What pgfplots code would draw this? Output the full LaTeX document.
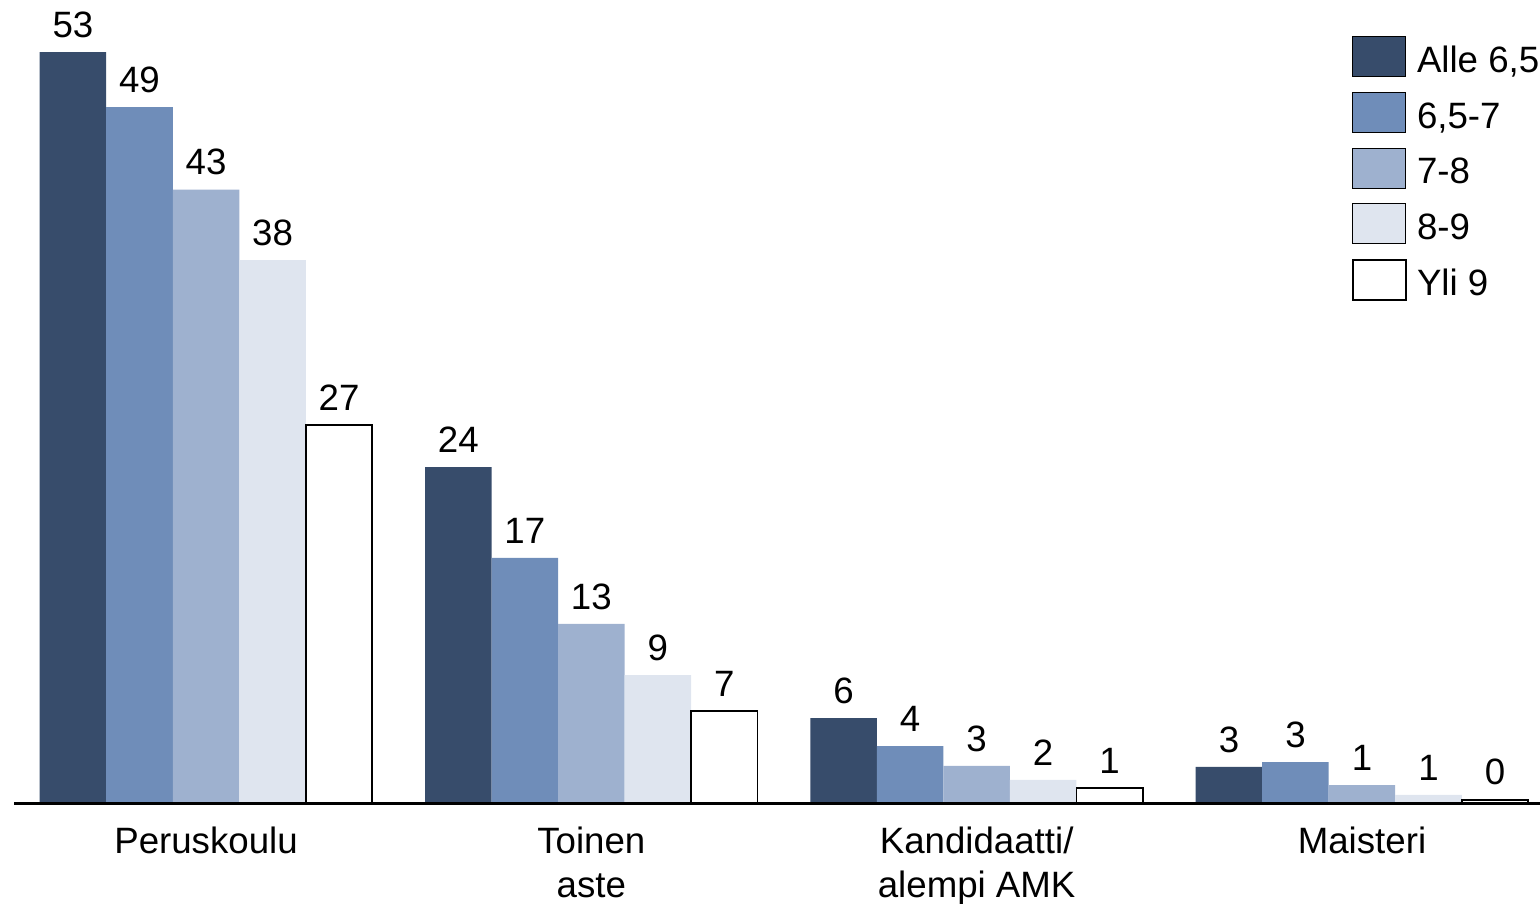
\documentclass[border=0pt]{standalone}
\usepackage{pgfplots}
\pgfplotsset{compat=1.18}
\usepackage{fontspec}
\setmainfont{Liberation Sans}
\definecolor{c1}{RGB}{55,76,107}
\definecolor{c2}{RGB}{111,141,185}
\definecolor{c3}{RGB}{158,177,207}
\definecolor{c4}{RGB}{223,229,239}
\begin{document}
\fontsize{18.4}{22}\selectfont
\begin{tikzpicture}
\begin{axis}[
  at={(7bp,50bp)}, anchor=south west,
  scale only axis, width=763bp, height=402bp,
  xmin=-0.4983, xmax=3.462,
  ymin=0, ymax=56.86,
  enlargelimits=false,
  clip=false,
  axis on top,
  ybar=0pt, bar width=0.1726,
  axis y line=none,
  axis x line*=bottom,
  axis line style={-, line width=1.5bp, black},
  xtick={0,1,2,3},
  xticklabels={Peruskoulu,{Toinen\\aste},{Kandidaatti/\\alempi AMK},Maisteri},
  major tick length=0pt,
  x tick label style={align=center, inner sep=0pt, anchor=north, yshift=-11.2bp, font=\fontsize{18.4}{22}\selectfont},
  nodes near coords={\pgfmathprintnumber[fixed,precision=0,assume math mode=true]{\pgfplotspointmeta}},
  every node near coord/.append style={inner sep=0pt, anchor=south, yshift=7bp, font=\fontsize{18.4}{22}\selectfont, text=black},
  legend image code/.code={\draw[#1] (0bp,-2bp) rectangle (26.5bp,18bp);},
  legend style={at={(0.8768,0.9552)}, anchor=north west, draw=none, fill=none,
    inner sep=0pt, outer sep=0pt, row sep=7.5bp, column sep=5.2bp,
    nodes={inner sep=0pt, text depth=0pt, anchor=base west},
    font=\fontsize{18.4}{22}\selectfont},
  legend cell align=left,
]
\addplot[fill=c1, draw=none] coordinates {(0,53.18) (1,23.83) (2,6.08) (3,2.62)};
\addplot[fill=c2, draw=none] coordinates {(0,49.29) (1,17.40) (2,4.10) (3,2.97)};
\addplot[fill=c3, draw=none] coordinates {(0,43.45) (1,12.73) (2,2.69) (3,1.34)};
\addplot[fill=c4, draw=none] coordinates {(0,38.47) (1,9.12) (2,1.70) (3,0.64)};
\addplot[fill=white, draw=black, line width=0.8bp] coordinates {(0,26.80) (1,6.58) (2,1.13) (3,0.28)};
\legend{{Alle 6,5},{6,5-7},{7-8},{8-9},{Yli 9}}
\end{axis}
\pgfresetboundingbox
\path[use as bounding box] (0bp,0bp) rectangle (770bp,452bp);
\end{tikzpicture}
\end{document}
